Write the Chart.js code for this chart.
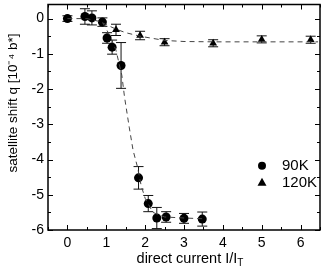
<!DOCTYPE html>
<html><head><meta charset="utf-8">
<script src="https://cdn.jsdelivr.net/npm/chart.js@4/dist/chart.umd.min.js"></script>
<style>html,body{margin:0;padding:0;background:#fff}#w{width:327px;height:269px}</style>
</head><body><div id="w"><canvas id="c"></canvas></div>
<script>
// 90K data (circles)
const x90 = [0, 0.45, 0.63, 0.9, 1.02, 1.15, 1.38, 1.83, 2.08, 2.3, 2.54, 3.0, 3.47];
const y90 = [0, 0.06, 0.02, -0.1, -0.55, -0.81, -1.33, -4.52, -5.25, -5.66, -5.63, -5.67, -5.69];
const e90 = [0.08, 0.22, 0.2, 0.12, 0.15, 0.2, 0.65, 0.32, 0.23, 0.3, 0.15, 0.14, 0.2];
// 120K data (triangles)
const x120 = [1.25, 1.87, 2.5, 3.75, 5.0, 6.26];
const y120 = [-0.32, -0.48, -0.67, -0.7, -0.59, -0.6];
const e120 = [0.16, 0.12, 0.1, 0.1, 0.1, 0.1];
// dashed fit curves
const fit90X = [0, 0.5, 0.9, 1.1, 1.25, 1.4, 1.47, 1.59, 1.69, 1.8, 1.9, 2.0, 2.2, 2.5, 3.0, 3.5];
const fit90Y = [0, 0, -0.1, -0.5, -0.9, -1.61, -2.23, -3.08, -3.74, -4.2, -4.75, -5.1, -5.5, -5.63, -5.66, -5.68];
const fit120X = [0.9, 1.25, 1.5, 1.87, 2.5, 3.0, 3.75, 5.0, 6.45];
const fit120Y = [-0.12, -0.3, -0.4, -0.5, -0.62, -0.65, -0.66, -0.66, -0.66];
const xTicks = [0, 1, 2, 3, 4, 5, 6];
const yTicks = [-6, -5, -4, -3, -2, -1, 0];
const legendLabels = ['90K', '120K'];
const yTitle = 'satellite shift q [10\u207B\u2074 b*]';
const xTitle = 'direct current I/I';
const xTitleSub = 'T';

const pts = (xs, ys) => xs.map((x, i) => ({x: x, y: ys[i]}));
const FONT = '"Liberation Sans", Arial, sans-serif';

const decor = {
  id: 'decor',
  beforeDatasetsDraw(chart) {
    const ctx = chart.ctx, xs = chart.scales.x, ys = chart.scales.y;
    ctx.save();
    ctx.strokeStyle = '#111'; ctx.lineWidth = 1;
    const bars = (X, Y, E) => X.forEach((x, i) => {
      const px = xs.getPixelForValue(x);
      const t = ys.getPixelForValue(Y[i] + E[i]), b = ys.getPixelForValue(Y[i] - E[i]);
      ctx.beginPath();
      ctx.moveTo(px, t); ctx.lineTo(px, b);
      ctx.moveTo(px - 5, t); ctx.lineTo(px + 5, t);
      ctx.moveTo(px - 5, b); ctx.lineTo(px + 5, b);
      ctx.stroke();
    });
    bars(x90, y90, e90); bars(x120, y120, e120);
    ctx.restore();
  },
  afterDraw(chart) {
    const ctx = chart.ctx, a = chart.chartArea, xs = chart.scales.x, ys = chart.scales.y;
    ctx.save();
    ctx.strokeStyle = '#000'; ctx.lineWidth = 1.5;
    ctx.strokeRect(a.left, a.top, a.right - a.left, a.bottom - a.top);
    ctx.lineWidth = 1;
    ctx.beginPath();
    for (let v = -0.5; v <= 6.5 + 1e-9; v += 0.5) {
      const px = Math.round(xs.getPixelForValue(v)) + 0.5;
      const L = Number.isInteger(v) ? 5 : 3;
      ctx.moveTo(px, a.bottom); ctx.lineTo(px, a.bottom - L);
      ctx.moveTo(px, a.top); ctx.lineTo(px, a.top + L);
    }
    for (let v = -6; v <= 0.4; v += 0.5) {
      const py = Math.round(ys.getPixelForValue(v)) + 0.5;
      const L = Number.isInteger(v) ? 5 : 3;
      ctx.moveTo(a.left, py); ctx.lineTo(a.left + L, py);
      ctx.moveTo(a.right, py); ctx.lineTo(a.right - L, py);
    }
    ctx.stroke();
    // legend
    ctx.fillStyle = '#000';
    const lx = a.right - 58, ly = ys.getPixelForValue(-4.18);
    ctx.beginPath(); ctx.arc(lx, ly, 4, 0, Math.PI * 2); ctx.fill();
    const ty = ly + 16.5;
    ctx.beginPath(); ctx.moveTo(lx, ty - 4.5); ctx.lineTo(lx + 4.5, ty + 3.5); ctx.lineTo(lx - 4.5, ty + 3.5); ctx.closePath(); ctx.fill();
    ctx.font = '15px ' + FONT; ctx.textBaseline = 'middle'; ctx.textAlign = 'left';
    ctx.fillText(legendLabels[0], lx + 20, ly);
    ctx.fillText(legendLabels[1], lx + 20, ty);
    // y title
    ctx.save();
    ctx.font = '13.5px ' + FONT;
    ctx.translate(13, 103); ctx.rotate(-Math.PI / 2);
    ctx.textAlign = 'center'; ctx.textBaseline = 'middle';
    ctx.fillText(yTitle, 0, 0);
    ctx.restore();
    // x title with subscript
    ctx.font = '14.5px ' + FONT;
    const w1 = ctx.measureText(xTitle).width;
    ctx.font = '10px ' + FONT;
    const w2 = ctx.measureText(xTitleSub).width;
    const cx = 190, x0 = cx - (w1 + w2) / 2, by = 263;
    ctx.textBaseline = 'alphabetic'; ctx.textAlign = 'left';
    ctx.font = '14.5px ' + FONT; ctx.fillText(xTitle, x0, by);
    ctx.font = '10px ' + FONT; ctx.fillText(xTitleSub, x0 + w1, by + 3);
    ctx.restore();
  }
};

new Chart(document.getElementById('c'), {
  type: 'scatter',
  data: {
    datasets: [
      {label: 'fit90', data: pts(fit90X, fit90Y), showLine: true, pointRadius: 0, borderColor: '#444', borderWidth: 1, borderDash: [5, 4], fill: false, tension: 0},
      {label: 'fit120', data: pts(fit120X, fit120Y), showLine: true, pointRadius: 0, borderColor: '#444', borderWidth: 1, borderDash: [5, 4], fill: false, tension: 0},
      {label: legendLabels[0], data: pts(x90, y90), pointStyle: 'circle', pointRadius: 4.5, backgroundColor: '#000', borderColor: '#000', borderWidth: 0},
      {label: legendLabels[1], data: pts(x120, y120), pointStyle: 'triangle', pointRadius: 4.5, backgroundColor: '#000', borderColor: '#000', borderWidth: 0}
    ]
  },
  options: {
    responsive: true, maintainAspectRatio: false, animation: false,
    layout: {padding: {top: 3, right: 7, left: 0, bottom: 0}},
    plugins: {legend: {display: false}, tooltip: {enabled: false}},
    scales: {
      x: {type: 'linear', min: -0.5, max: 6.5,
          afterBuildTicks: s => { s.ticks = xTicks.map(v => ({value: v})); },
          afterFit: s => { s.height = 39; s.paddingLeft = 0; s.paddingRight = 0; },
          ticks: {font: {family: FONT, size: 14}, color: '#000', padding: 5, maxRotation: 0},
          grid: {display: false, drawTicks: false}, border: {display: false}},
      y: {type: 'linear', min: -6, max: 0.4,
          afterBuildTicks: s => { s.ticks = yTicks.map(v => ({value: v})); },
          afterFit: s => { s.width = 48; s.paddingTop = 0; s.paddingBottom = 0; },
          ticks: {font: {family: FONT, size: 14}, color: '#000', padding: 4},
          grid: {display: false, drawTicks: false}, border: {display: false}}
    }
  },
  plugins: [decor]
});
</script>
</body></html>
